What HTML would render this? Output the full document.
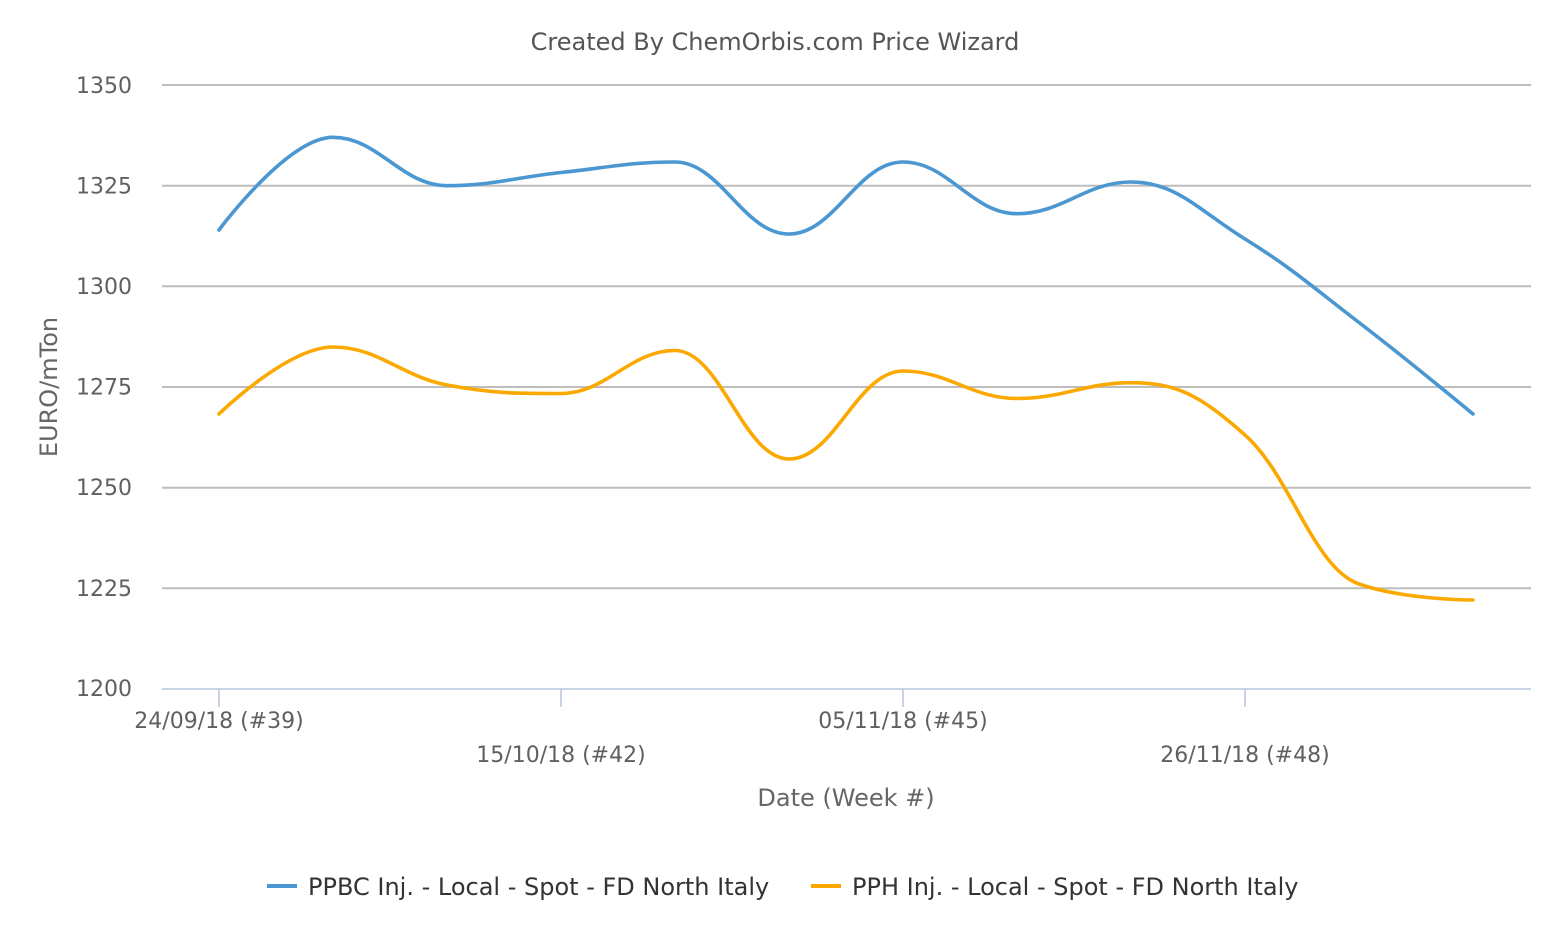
<!DOCTYPE html>
<html>
<head>
<meta charset="utf-8">
<style>
  html, body { margin: 0; padding: 0; background: #ffffff; }
  svg { display: block; }
  text { font-family: "DejaVu Sans", "Liberation Sans", sans-serif; }
</style>
</head>
<body>
<svg width="1552" height="930" viewBox="0 0 1552 930" xmlns="http://www.w3.org/2000/svg">
  <rect x="0" y="0" width="1552" height="930" fill="#ffffff"/>

  <!-- Title -->
  <text x="775" y="50" font-size="24" fill="#555555" text-anchor="middle">Created By ChemOrbis.com Price Wizard</text>

  <!-- Grid lines -->
  <g stroke="#bdbdbd" stroke-width="2" fill="none">
    <line x1="162" y1="85" x2="1531" y2="85"/>
    <line x1="162" y1="185.7" x2="1531" y2="185.7"/>
    <line x1="162" y1="286.3" x2="1531" y2="286.3"/>
    <line x1="162" y1="387" x2="1531" y2="387"/>
    <line x1="162" y1="487.7" x2="1531" y2="487.7"/>
    <line x1="162" y1="588.3" x2="1531" y2="588.3"/>
  </g>

  <!-- X axis line and ticks -->
  <g stroke="#c8d3e3" stroke-width="2" fill="none">
    <line x1="162" y1="689" x2="1531" y2="689"/>
    <line x1="219" y1="689" x2="219" y2="707"/>
    <line x1="561" y1="689" x2="561" y2="707"/>
    <line x1="903" y1="689" x2="903" y2="707"/>
    <line x1="1245" y1="689" x2="1245" y2="707"/>
  </g>

  <!-- Y axis labels -->
  <g font-size="22" fill="#606060" text-anchor="end">
    <text x="132" y="93">1350</text>
    <text x="132" y="193.5">1325</text>
    <text x="132" y="294">1300</text>
    <text x="132" y="394.5">1275</text>
    <text x="132" y="495">1250</text>
    <text x="132" y="596">1225</text>
    <text x="132" y="696">1200</text>
  </g>

  <!-- Y axis title -->
  <text x="57" y="387" font-size="24" fill="#666666" text-anchor="middle" transform="rotate(-90 57 387)">EURO/mTon</text>

  <!-- X axis labels -->
  <g font-size="22" fill="#606060" text-anchor="middle">
    <text x="219" y="728">24/09/18 (#39)</text>
    <text x="561" y="762">15/10/18 (#42)</text>
    <text x="903" y="728">05/11/18 (#45)</text>
    <text x="1245" y="762">26/11/18 (#48)</text>
  </g>

  <!-- X axis title -->
  <text x="846" y="806" font-size="24" fill="#666666" text-anchor="middle">Date (Week #)</text>

  <!-- Series: PPBC (blue) -->
  <path fill="none" stroke="#4a97d1" stroke-width="3.6" stroke-linejoin="round" stroke-linecap="round"
    d="M219,230 C219,230 287.4,137.3 333,137.3 C378.6,137.3 401.4,185.7 447,185.7 C492.6,185.7 515.4,177.24 561,172.5 C606.6,167.76 629.4,162 675,162 C720.6,162 743.4,234 789,234 C834.6,234 857.4,162 903,162 C948.6,162 971.4,213.7 1017,213.7 C1062.6,213.7 1085.4,182 1131,182 C1176.6,182 1199.4,210.9 1245,239 C1290.6,267.1 1313.4,287.5 1359,322.5 C1404.6,357.5 1473,414 1473,414"/>

  <!-- Series: PPH (orange) -->
  <path fill="none" stroke="#fba900" stroke-width="3.6" stroke-linejoin="round" stroke-linecap="round"
    d="M219,414 C219,414 287.4,347 333,347 C378.6,347 401.4,376.5 447,385 C492.6,393.5 515.4,393.5 561,393.5 C606.6,393.5 629.4,350.5 675,350.5 C720.6,350.5 743.4,459 789,459 C834.6,459 857.4,371 903,371 C948.6,371 971.4,398.5 1017,398.5 C1062.6,398.5 1085.4,382.7 1131,382.7 C1176.6,382.7 1199.4,394.74 1245,435 C1290.6,475.26 1313.4,568 1359,584 C1404.6,600 1473,600 1473,600"/>

  <!-- Legend -->
  <line x1="267" y1="886" x2="297" y2="886" stroke="#4a97d1" stroke-width="4"/>
  <text x="308" y="895" font-size="24" fill="#333333">PPBC Inj. - Local - Spot - FD North Italy</text>
  <line x1="811" y1="886" x2="841" y2="886" stroke="#fba900" stroke-width="4"/>
  <text x="852" y="895" font-size="24" fill="#333333">PPH Inj. - Local - Spot - FD North Italy</text>
</svg>
</body>
</html>
